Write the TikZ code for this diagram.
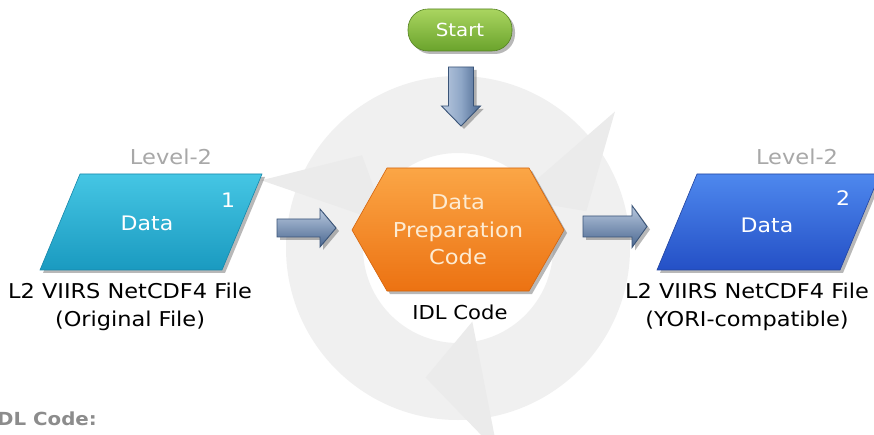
\documentclass[tikz,border=0pt]{standalone}
\usepackage{fontspec}
\setmainfont{DejaVu Sans}[FakeStretch=1.1]
\usetikzlibrary{calc,shadows}
\definecolor{ringgray}{HTML}{F0F0F0}
\definecolor{headgray}{HTML}{EBEBEB}
\definecolor{lvlgray}{HTML}{A8A8A8}
\definecolor{cyanT}{HTML}{45C6E4}
\definecolor{cyanB}{HTML}{1A9AC0}
\definecolor{cyanE}{HTML}{1888AA}
\definecolor{blueT}{HTML}{4E88EE}
\definecolor{blueB}{HTML}{2450C6}
\definecolor{blueE}{HTML}{2244A0}
\definecolor{orT}{HTML}{FBA646}
\definecolor{orB}{HTML}{EC7212}
\definecolor{orE}{HTML}{D4640C}
\definecolor{grT}{HTML}{AAD560}
\definecolor{grB}{HTML}{6AA32C}
\definecolor{arL}{HTML}{B9C9DF}
\definecolor{arM}{HTML}{8FA7C7}
\definecolor{arD}{HTML}{4A6790}
\definecolor{arE}{HTML}{3A5478}
\definecolor{cream}{HTML}{FDEBD2}
\begin{document}
\begin{tikzpicture}[x=1pt,y=1pt,
  shad/.style={drop shadow={shadow xshift=3pt,shadow yshift=-3pt,opacity=0.28,fill=black}},
  databox/.style={shad,line width=0.6pt},
  barrow/.style={draw=arE,line width=0.9pt,line join=miter},
  lvl/.style={text=lvlgray,font=\fontsize{20.5}{22}\selectfont,inner sep=0},
  intext/.style={text=white,font=\fontsize{20}{24}\selectfont,inner sep=0},
  lbl/.style={text=black,font=\fontsize{20.4}{28}\selectfont,align=center,inner sep=0},
  hextext/.style={text=cream,font=\fontsize{20.5}{27.5}\selectfont,align=center,inner sep=0},
  startbox/.style={shad,rounded corners=20pt,minimum width=104pt,minimum height=42pt,
    top color=grT,bottom color=grB,draw=grB!80!black,line width=0.6pt,
    text=white,font=\fontsize{18}{20}\selectfont}
]
\useasboundingbox (0,0) rectangle (874,-435);
\fill[white] (0,0) rectangle (874,-435);

% background cycle ring
\coordinate (C) at (458,-248);
\fill[ringgray,even odd rule] (C) circle[radius=172] (C) circle[radius=95];
\foreach \t [evaluate=\t as \b using \t+25] in {136,16,256}{
  \fill[headgray] ($(C)+(\b:208)$) -- ($(C)+(\t:133.5)$) -- ($(C)+(\b:75)$) -- cycle;
}

% start
\node[startbox] (start) at (460,-30) {Start};

% down block arrow
\coordinate (ds) at (461,-67);
\coordinate (de) at (461,-126);
\draw[barrow,shad,left color=arL,right color=arD,middle color=arM]
  ($(ds)+(-12.5,0)$) -- ($(de)+(-12.5,20)$) -- ($(de)+(-19.5,20)$) -- (de)
  -- ($(de)+(19.5,20)$) -- ($(de)+(12.5,20)$) -- ($(ds)+(12.5,0)$) -- cycle;

% left data box
\coordinate (p1a) at (80,-174); \coordinate (p1b) at (262,-174);
\coordinate (p1c) at (222,-270); \coordinate (p1d) at (40,-270);
\draw[databox,draw=cyanE,top color=cyanT,bottom color=cyanB] (p1a) -- (p1b) -- (p1c) -- (p1d) -- cycle;
\node[intext] (d1) at (147,-223) {Data};
\node[intext] (n1) at (228,-200) {1};
\node[lvl] (lv1) at (171,-157) {Level-2};
\node[lbl] (lab1) at (130,-307) {L2 VIIRS NetCDF4 File\\(Original File)};

% left block arrow
\coordinate (ls) at (277,-228);
\coordinate (le) at (336,-228);
\draw[barrow,shad,top color=arL,middle color=arM,bottom color=arD]
  ($(ls)+(0,9)$) -- ($(le)+(-16,9)$) -- ($(le)+(-16,19)$) -- (le)
  -- ($(le)+(-16,-19)$) -- ($(le)+(-16,-9)$) -- ($(ls)+(0,-9)$) -- cycle;

% hexagon
\draw[shad,draw=orE,line width=0.6pt,top color=orT,bottom color=orB]
  (352,-230) -- (387,-168) -- (529,-168) -- (564,-230) -- (529,-291) -- (387,-291) -- cycle;
\node[hextext] (hex) at (458,-230) {Data\\Preparation\\Code};
\node[lbl,font=\fontsize{19.2}{22}\selectfont] (idl) at (460,-312) {IDL Code};

% right block arrow
\coordinate (rs) at (583,-226.5);
\coordinate (re) at (647,-226.5);
\draw[barrow,shad,top color=arL,middle color=arM,bottom color=arD]
  ($(rs)+(0,10.5)$) -- ($(re)+(-15,10.5)$) -- ($(re)+(-15,21)$) -- (re)
  -- ($(re)+(-15,-21)$) -- ($(re)+(-15,-10.5)$) -- ($(rs)+(0,-10.5)$) -- cycle;

% right data box
\coordinate (p2a) at (697,-174); \coordinate (p2b) at (880,-174);
\coordinate (p2c) at (840,-270); \coordinate (p2d) at (657,-270);
\draw[databox,draw=blueE,top color=blueT,bottom color=blueB] (p2a) -- (p2b) -- (p2c) -- (p2d) -- cycle;
\node[intext] (d2) at (767,-225) {Data};
\node[intext] (n2) at (843,-198) {2};
\node[lvl] (lv2) at (797,-157) {Level-2};
\node[lbl] (lab2) at (747,-307) {L2 VIIRS NetCDF4 File\\(YORI-compatible)};

% bottom caption
\node[anchor=east,inner sep=0,text=black!45,font=\bfseries\fontsize{18}{20}\selectfont] (code) at (97,-419) {IDL Code:};
\end{tikzpicture}
\end{document}
